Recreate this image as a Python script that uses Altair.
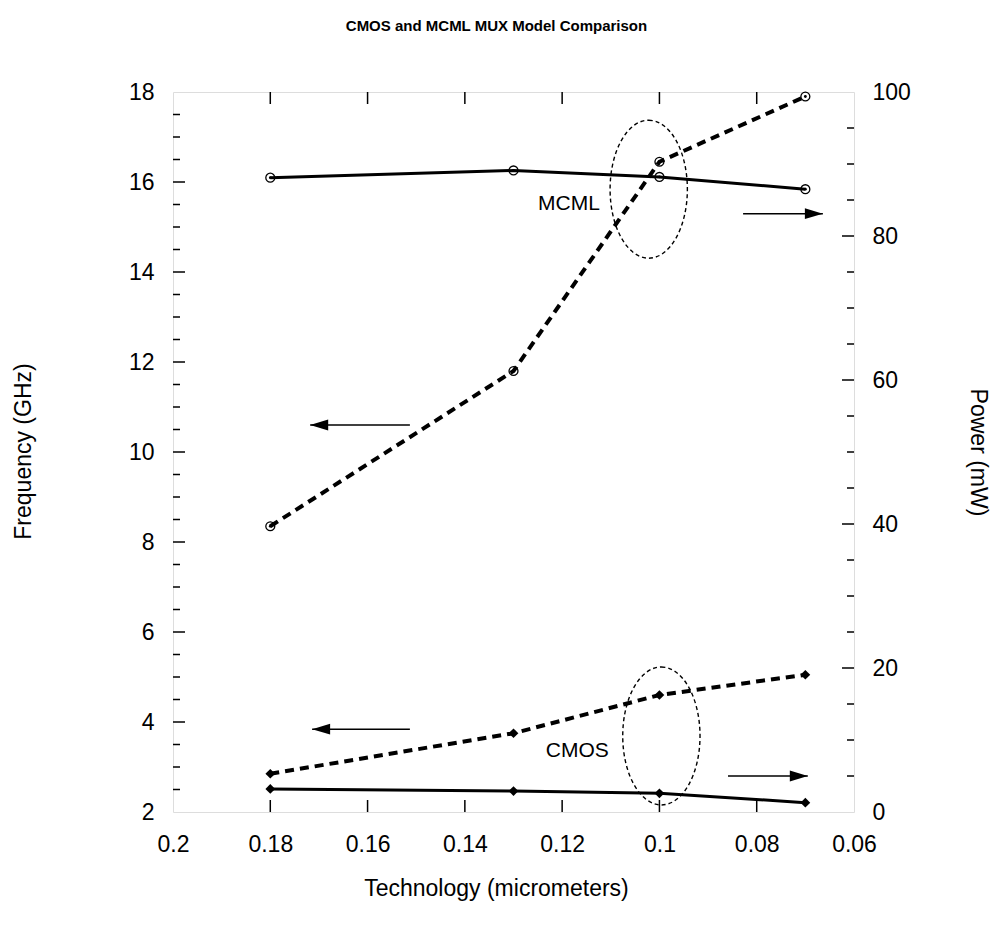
import altair as alt
import pandas as pd

# ---------------- data ----------------
tech = [0.18, 0.13, 0.10, 0.07]
mcml_freq = [8.35, 11.8, 16.45, 17.9]
cmos_freq = [2.85, 3.75, 4.6, 5.05]
mcml_power = [88.1, 89.1, 88.2, 86.5]
cmos_power = [3.2, 2.9, 2.6, 1.3]

x_ticks = [0.2, 0.18, 0.16, 0.14, 0.12, 0.1, 0.08, 0.06]
x_inner_ticks = [0.18, 0.16, 0.14, 0.12, 0.1, 0.08]
freq_ticks = [2, 4, 6, 8, 10, 12, 14, 16, 18]
freq_inner_major = [4, 6, 8, 10, 12, 14, 16]
freq_inner_minor = [2.5, 3, 3.5, 4.5, 5, 5.5, 6.5, 7, 7.5, 8.5, 9, 9.5, 10.5, 11, 11.5,
                    12.5, 13, 13.5, 14.5, 15, 15.5, 16.5, 17, 17.5]
power_ticks = [0, 20, 40, 60, 80, 100]
power_inner_major = [20, 40, 60, 80]
power_inner_minor = [5, 10, 15, 25, 30, 35, 45, 50, 55, 65, 70, 75, 85, 90, 95]

label_names = ["MCML", "CMOS"]
label_x = [0.1186, 0.1169]
label_y = [15.51, 3.36]

ellipse_x = [0.1022, 0.0996]
ellipse_y = [15.84, 3.69]

freq_arrow_tip = [0.1718, 0.1714]
freq_arrow_tail = [0.1513, 0.1513]
freq_arrow_y = [10.6, 3.84]
power_arrow_tail = [0.0828, 0.0859]
power_arrow_tip = [0.0664, 0.0695]
power_arrow_y = [83.1, 5.0]

# ---------------- styling ----------------
W, H = 681, 720
FONT = "Liberation Sans"
ELLIPSE = "M 0 -1 A 0.56 1 0 1 1 0 1 A 0.56 1 0 1 1 0 -1 Z"
HEAD_LEFT = "M 0 0 L 1 -0.3 L 1 0.3 Z"
HEAD_RIGHT = "M 0 0 L -1 -0.3 L -1 0.3 Z"

xscale = alt.Scale(domain=[0.06, 0.2], reverse=True, nice=False, zero=False)
fscale = alt.Scale(domain=[2, 18], nice=False, zero=False)
pscale = alt.Scale(domain=[0, 100], nice=False, zero=False)

xaxis = alt.Axis(values=x_ticks, format="~g", title="Technology (micrometers)",
                 ticks=False, domain=False, grid=False, labelFontSize=23,
                 labelPadding=21, labelFlush=False, labelOverlap=False,
                 titleFontSize=23, titleFontWeight="normal", titleX=323, titleY=76,
                 titleBaseline="middle", titleAlign="center")
faxis = alt.Axis(orient="left", values=freq_ticks, title="Frequency (GHz)",
                 ticks=False, domain=False, grid=False, labelFontSize=23,
                 labelPadding=19, labelFlush=False, labelOverlap=False,
                 titleFontSize=23, titleFontWeight="normal", titleX=-150, titleY=359,
                 titleAngle=270, titleBaseline="middle", titleAlign="center")
paxis = alt.Axis(orient="right", values=power_ticks, title="Power (mW)",
                 ticks=False, domain=False, grid=False, labelFontSize=23,
                 labelPadding=18, labelFlush=False, labelOverlap=False,
                 titleFontSize=23, titleFontWeight="normal", titleX=123, titleY=360,
                 titleAngle=90, titleBaseline="middle", titleAlign="center")


def X(f):
    return alt.X(f, type="quantitative", scale=xscale, axis=xaxis)


def YF(f):
    return alt.Y(f, type="quantitative", scale=fscale, axis=faxis)


def YP(f):
    return alt.Y(f, type="quantitative", scale=pscale, axis=paxis)


mf = pd.DataFrame({"t": tech, "v": mcml_freq})
cf = pd.DataFrame({"t": tech, "v": cmos_freq})
mp = pd.DataFrame({"t": tech, "v": mcml_power})
cp = pd.DataFrame({"t": tech, "v": cmos_power})

dash_line = dict(color="black", strokeWidth=4, strokeDash=[9, 6])
solid_line = dict(color="black", strokeWidth=3)
circ = dict(shape="circle", filled=False, color="black", size=80, strokeWidth=1.3, opacity=1)
dot = dict(shape="circle", filled=True, color="black", size=8, opacity=1)
diam = dict(shape="diamond", filled=True, color="black", size=95, opacity=1)

freq_parts = [
    alt.Chart(mf).mark_line(**dash_line).encode(x=X("t"), y=YF("v")),
    alt.Chart(cf).mark_line(**dash_line).encode(x=X("t"), y=YF("v")),
    alt.Chart(mf).mark_point(**circ).encode(x=X("t"), y=YF("v")),
    alt.Chart(mf).mark_point(**dot).encode(x=X("t"), y=YF("v")),
    alt.Chart(cf).mark_point(**diam).encode(x=X("t"), y=YF("v")),
]

# inner ticks
xt = pd.DataFrame({"v": x_inner_ticks})
fmaj = pd.DataFrame({"v": freq_inner_major})
fmin = pd.DataFrame({"v": freq_inner_minor})
freq_parts += [
    alt.Chart(xt).mark_rule(color="black", strokeWidth=1.5).encode(
        x=X("v"), y=alt.value(H), y2=alt.value(H - 12)),
    alt.Chart(xt).mark_rule(color="black", strokeWidth=1.5).encode(
        x=X("v"), y=alt.value(0), y2=alt.value(12)),
    alt.Chart(fmaj).mark_rule(color="black", strokeWidth=1.5).encode(
        y=YF("v"), x=alt.value(0), x2=alt.value(12)),
    alt.Chart(fmin).mark_rule(color="black", strokeWidth=1.5).encode(
        y=YF("v"), x=alt.value(0), x2=alt.value(7)),
]

# annotations on frequency scale
ell = pd.DataFrame({"x": ellipse_x, "y": ellipse_y})
lab = pd.DataFrame({"x": label_x, "y": label_y, "name": label_names})
fa = pd.DataFrame({"tip": freq_arrow_tip, "tail": freq_arrow_tail, "y": freq_arrow_y})
freq_parts += [
    alt.Chart(ell).mark_point(shape=ELLIPSE, size=138 * 138, filled=False, color="black",
                              strokeWidth=1.4, strokeDash=[4, 3], opacity=1).encode(
        x=X("x"), y=YF("y")),
    alt.Chart(lab).mark_text(font=FONT, fontSize=21, color="black", align="center",
                             baseline="middle").encode(x=X("x"), y=YF("y"), text="name:N"),
    alt.Chart(fa).mark_rule(color="black", strokeWidth=1.5).encode(
        x=X("tail"), x2=alt.X2("tip"), y=YF("y")),
    alt.Chart(fa).mark_point(shape=HEAD_LEFT, size=36 * 36, filled=True, color="black",
                             opacity=1).encode(x=X("tip"), y=YF("y")),
]

pmaj = pd.DataFrame({"v": power_inner_major})
pmin = pd.DataFrame({"v": power_inner_minor})
pa = pd.DataFrame({"tip": power_arrow_tip, "tail": power_arrow_tail, "y": power_arrow_y})
power_parts = [
    alt.Chart(mp).mark_line(**solid_line).encode(x=X("t"), y=YP("v")),
    alt.Chart(cp).mark_line(**solid_line).encode(x=X("t"), y=YP("v")),
    alt.Chart(mp).mark_point(**circ).encode(x=X("t"), y=YP("v")),
    alt.Chart(mp).mark_point(**dot).encode(x=X("t"), y=YP("v")),
    alt.Chart(cp).mark_point(**diam).encode(x=X("t"), y=YP("v")),
    alt.Chart(pmaj).mark_rule(color="black", strokeWidth=1.5).encode(
        y=YP("v"), x=alt.value(W), x2=alt.value(W - 12)),
    alt.Chart(pmin).mark_rule(color="black", strokeWidth=1.5).encode(
        y=YP("v"), x=alt.value(W), x2=alt.value(W - 7)),
    alt.Chart(pa).mark_rule(color="black", strokeWidth=1.5).encode(
        x=X("tail"), x2=alt.X2("tip"), y=YP("y")),
    alt.Chart(pa).mark_point(shape=HEAD_RIGHT, size=36 * 36, filled=True, color="black",
                             opacity=1).encode(x=X("tip"), y=YP("y")),
]

freq_layer = alt.layer(*freq_parts)
power_layer = alt.layer(*power_parts)

chart = alt.layer(freq_layer, power_layer).resolve_scale(y="independent").properties(
    width=W, height=H,
    title=alt.TitleParams(text="CMOS and MCML MUX Model Comparison",
                          font="Liberation Sans", fontWeight="bold", fontSize=15,
                          color="black", anchor="middle", dx=-17, offset=47),
    autosize=alt.AutoSizeParams(type="none"),
    padding={"left": 173, "top": 92, "right": 138, "bottom": 122},
).configure_view(stroke="black", strokeWidth=2).configure_axis(
    labelFont=FONT, titleFont=FONT, labelColor="black", titleColor="black"
).configure(background="white")

chart.save("out.html", embed_options={"renderer": "svg", "actions": False})
